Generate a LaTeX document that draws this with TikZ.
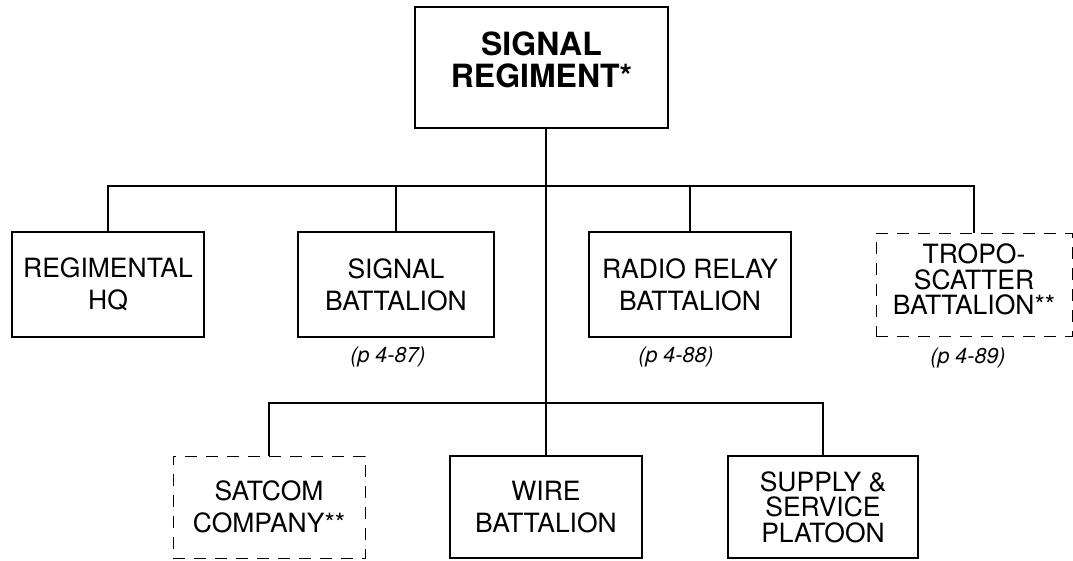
\documentclass[tikz,border=0pt]{standalone}
\usepackage{fontspec}
\setmainfont{TeX Gyre Heros}
\begin{document}
\begin{tikzpicture}[x=1pt,y=-1pt,
  box/.style={draw, rectangle, line width=2.9pt, inner sep=0pt, align=center,
    font=\fontsize{26.5}{32}\selectfont},
  box3/.style={box, font=\fontsize{26.5}{25.5}\selectfont},
  dbox/.style={box, line width=0.9pt, dash pattern=on 12pt off 9pt},
  title/.style={inner sep=0pt, align=center, font=\bfseries\fontsize{32}{32}\selectfont},
  pref/.style={inner sep=0pt, font=\itshape\fontsize{21.5}{24}\selectfont},
  conn/.style={line width=2.3pt}]
\useasboundingbox (0,0) rectangle (1073,560);
\fill[white] (0,0) rectangle (1073,560);

% top
\node[box, minimum width=253, minimum height=121] (top) at (541.5,67.5) {};
\node[title] (toptext) at (541.5,60) {SIGNAL\\REGIMENT*};

% first row
\node[box, minimum width=192, minimum height=105] (rhq) at (108,284.5) {REGIMENTAL\\HQ};
\node[box, minimum width=196, minimum height=105] (sigbn) at (396,284.5) {SIGNAL\\BATTALION};
\node[box, minimum width=202, minimum height=105] (rrbn) at (690,284.5) {RADIO RELAY\\BATTALION};
\node[dbox, minimum width=196, minimum height=103] (tropo) at (974,284.5) {};
\node[box3, draw=none, minimum width=0, minimum height=0] (tropotext) at (974,279.5) {TROPO-\\SCATTER\\BATTALION**};

% page refs
\node[pref] (p87) at (388,357) {(p 4-87)};
\node[pref] (p88) at (676,357) {(p 4-88)};
\node[pref] (p89) at (968,358) {(p 4-89)};

% second row
\node[dbox, minimum width=192, minimum height=102] (satcom) at (269,507) {SATCOM\\COMPANY**};
\node[box, minimum width=192, minimum height=102] (wire) at (546,507) {WIRE\\BATTALION};
\node[box3, minimum width=190, minimum height=102] (supply) at (823,507) {SUPPLY \&\\SERVICE\\PLATOON};

% buses
\coordinate (bus1) at (0,186);
\coordinate (bus2) at (0,403);

\draw[conn] (rhq.north) |- (tropo.north |- bus1) -- (tropo.north);
\draw[conn] (sigbn.north) -- (sigbn.north |- bus1);
\draw[conn] (rrbn.north) -- (rrbn.north |- bus1);
\draw[conn] (wire.north |- top.south) -- (wire.north);
\draw[conn] (satcom.north) |- (supply.north |- bus2) -- (supply.north);
\end{tikzpicture}
\end{document}
